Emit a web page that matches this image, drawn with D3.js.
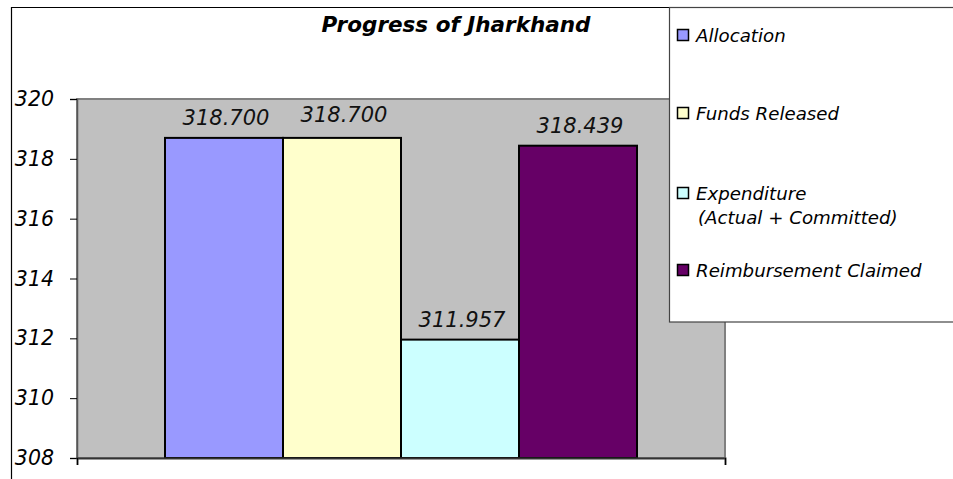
<!DOCTYPE html>
<html>
<head>
<meta charset="utf-8">
<script src="https://cdn.jsdelivr.net/npm/d3@7"></script>
<style>
  html, body { margin: 0; padding: 0; background: #fff; }
  svg { display: block; font-family: "DejaVu Sans", Verdana, sans-serif; font-style: italic; }
</style>
</head>
<body>
<svg id="chart" width="953" height="479"></svg>
<script>
// Series shown as side-by-side bars in a single category
const seriesNames = ["Allocation", "Funds Released", "Expenditure\n(Actual + Committed)", "Reimbursement Claimed"];
const seriesValues = [318.700, 318.700, 311.957, 318.439];
const seriesColors = ["#9999FF", "#FFFFCC", "#CCFFFF", "#660066"];
const yTicks = [308, 310, 312, 314, 316, 318, 320];
const chartTitle = "Progress of Jharkhand";

const svg = d3.select("#chart");

// Outer frame (top and left edges visible)
svg.append("path")
  .attr("d", "M11.5,479 V7.5 H953")
  .attr("fill", "none").attr("stroke", "#000").attr("stroke-width", 1.2);

const plot = { left: 77, right: 725, top: 99, bottom: 458 };

const y = d3.scaleLinear().domain([308, 320]).range([plot.bottom, plot.top]);

// Clustered layout: one category, bars centred with 150% gap width
const x = d3.scaleBand().domain(seriesValues.map((d, i) => i))
  .range([165, 637]).paddingInner(0);

// Plot area
svg.append("rect")
  .attr("x", plot.left).attr("y", plot.top)
  .attr("width", plot.right - plot.left).attr("height", plot.bottom - plot.top)
  .attr("fill", "#C0C0C0").attr("stroke", "#808080").attr("stroke-width", 2);

// Bars
svg.append("g").selectAll("rect").data(seriesValues).join("rect")
  .attr("x", (d, i) => x(i))
  .attr("y", d => y(d))
  .attr("width", x.bandwidth())
  .attr("height", d => y(308) - y(d))
  .attr("fill", (d, i) => seriesColors[i])
  .attr("stroke", "#000").attr("stroke-width", 2);

// Value labels
svg.append("g").selectAll("text").data(seriesValues).join("text")
  .attr("x", (d, i) => x(i) + x.bandwidth() / 2 + 2)
  .attr("y", (d, i) => y(d) - 13 - (i === 1 ? 3 : 0))
  .attr("text-anchor", "middle")
  .attr("font-size", 21)
  .attr("fill", "#111")
  .text(d => d3.format(".3f")(d));

// Y axis
const yAxis = d3.axisLeft(y).tickValues(yTicks).tickSize(7).tickPadding(16)
  .tickFormat(d3.format("d"));
const gy = svg.append("g").attr("transform", `translate(${plot.left},0)`).call(yAxis);
gy.select(".domain").attr("stroke", "#555").attr("stroke-width", 1.5);
gy.selectAll(".tick line").attr("stroke", "#000");
gy.selectAll(".tick text").attr("font-size", 20.5).attr("fill", "#000")
  .attr("font-family", "DejaVu Sans, Verdana, sans-serif").attr("font-style", "italic");

// X axis baseline with end ticks
const xAxisScale = d3.scaleLinear().domain([0, 1]).range([plot.left, plot.right]);
const gx = svg.append("g").attr("transform", `translate(0,${plot.bottom})`)
  .call(d3.axisBottom(xAxisScale).tickValues([0, 1]).tickSize(7).tickFormat(""));
gx.select(".domain").attr("stroke", "#333").attr("stroke-width", 2);
gx.selectAll(".tick line").attr("stroke", "#000");

// Title
svg.append("text")
  .attr("x", 456).attr("y", 32)
  .attr("text-anchor", "middle")
  .attr("font-size", 21.5).attr("font-weight", "bold")
  .text(chartTitle);

// Legend
const legend = svg.append("g");
legend.append("rect")
  .attr("x", 669.5).attr("y", 7.5).attr("width", 300).attr("height", 314.5)
  .attr("fill", "#fff").attr("stroke", "#444").attr("stroke-width", 1.2);

const legendY = [35, 113, 193, 270];
const items = legend.selectAll("g.item").data(seriesNames).join("g").attr("class", "item")
  .attr("transform", (d, i) => `translate(677,${legendY[i]})`);
items.append("rect")
  .attr("x", 0.5).attr("y", -5.5).attr("width", 11).attr("height", 11)
  .attr("fill", (d, i) => seriesColors[i]).attr("stroke", "#000").attr("stroke-width", 1.5);
items.append("text")
  .attr("x", 19).attr("y", 6.5)
  .attr("font-size", 18.2)
  .each(function(d) {
    const lines = d.split("\n");
    const t = d3.select(this);
    lines.forEach((ln, j) => {
      t.append("tspan").attr("x", j === 0 ? 19 : 21).attr("dy", j === 0 ? 0 : 24).text(ln);
    });
  });
</script>
</body>
</html>
